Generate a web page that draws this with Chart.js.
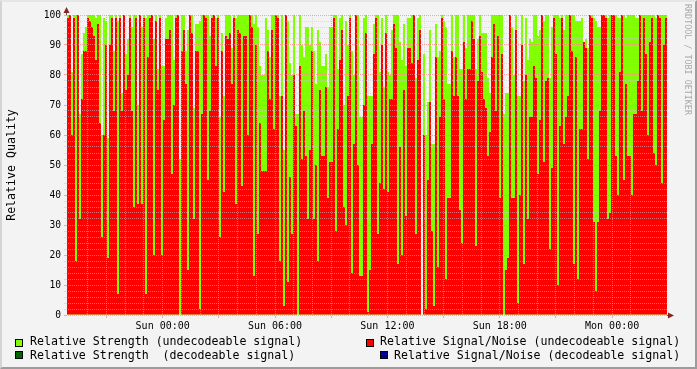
<!DOCTYPE html>
<html>
<head>
<meta charset="utf-8">
<script src="https://cdn.jsdelivr.net/npm/chart.js@4.4.0/dist/chart.umd.min.js"></script>
<style>
    body { margin: 0; background: #f3f3f3; }
    #wrap { position: relative; width: 697px; height: 369px; background: #f3f3f3; overflow: hidden; }
    #chart { position: absolute; left: 0; top: 0; }
    #frame {
        position: absolute; left: 0; top: 0; width: 697px; height: 369px; box-sizing: border-box;
        border-left: 2px solid #d4d4d4; border-top: 2px solid #e6e6e6;
        border-right: 2px solid #9c9c9c; border-bottom: 2px solid #9c9c9c;
        pointer-events: none;
    }
    .leg {
        position: absolute; font-family: 'DejaVu Sans Mono', monospace; font-size: 11.6px;
        line-height: 14px; color: #000; white-space: pre;
    }
    .sw { position: absolute; width: 6px; height: 6px; border: 1px solid #000; }
    #mark {
        position: absolute; left: 683px; top: 4px; writing-mode: vertical-rl;
        font-family: 'DejaVu Sans Mono', monospace; font-size: 8.4px; color: #a8a8a8;
    }
</style>
</head>
<body>
<div id="wrap">
    <canvas id="chart" width="697" height="369"></canvas>
    <div id="frame"></div>

    <div class="sw" style="left:15px;top:339px;background:#80ff00"></div>
    <div class="leg" style="left:30px;top:334px">Relative Strength (undecodeable signal)</div>
    <div class="sw" style="left:366px;top:339px;background:#ff0000"></div>
    <div class="leg" style="left:380px;top:334px">Relative Signal/Noise (undecodeable signal)</div>

    <div class="sw" style="left:15px;top:351px;background:#006600"></div>
    <div class="leg" style="left:30px;top:348px">Relative Strength  (decodeable signal)</div>
    <div class="sw" style="left:380px;top:351px;background:#000099"></div>
    <div class="leg" style="left:394px;top:348px">Relative Signal/Noise (decodeable signal)</div>

    <div id="mark">RRDTOOL / TOBI OETIKER</div>
</div>

<script>
// values per sample column (0..100)
const signalNoise = [
    99, 100, 60, 99, 18, 100, 32, 72, 88, 88,
    99, 98, 96, 93, 85, 97, 64, 26, 60, 90,
    19, 90, 99, 68, 99, 7, 99, 68, 100, 75,
    80, 99, 68, 36, 99, 37, 100, 37, 99, 7,
    86, 99, 100, 20, 98, 75, 99, 20, 65, 92,
    92, 95, 47, 70, 99, 100, 0, 88, 95, 77,
    15, 100, 94, 32, 88, 88, 2, 67, 100, 99,
    45, 68, 99, 100, 83, 99, 26, 88, 41, 93,
    92, 94, 77, 99, 37, 95, 94, 43, 93, 93,
    60, 100, 96, 13, 90, 27, 64, 48, 48, 48,
    88, 72, 95, 62, 100, 99, 18, 73, 3, 100,
    11, 46, 27, 80, 63, 0, 83, 52, 68, 53,
    32, 55, 88, 32, 50, 18, 75, 53, 53, 76,
    39, 51, 51, 99, 28, 62, 85, 95, 36, 30,
    73, 99, 14, 57, 100, 50, 13, 13, 70, 94,
    1, 15, 57, 87, 99, 27, 44, 90, 42, 94,
    41, 72, 72, 97, 89, 17, 56, 20, 75, 33,
    89, 89, 84, 100, 27, 85, 95, 0, 60, 2,
    45, 71, 28, 3, 86, 16, 66, 99, 72, 12,
    39, 39, 88, 73, 86, 73, 35, 24, 91, 72,
    82, 82, 98, 92, 23, 78, 93, 81, 72, 69,
    53, 61, 86, 97, 68, 93, 39, 87, 0, 15,
    19, 100, 39, 39, 95, 4, 40, 90, 17, 80,
    32, 66, 66, 83, 79, 47, 65, 100, 51, 78,
    79, 22, 49, 99, 87, 10, 63, 99, 57, 66,
    73, 100, 88, 17, 86, 12, 62, 62, 91, 89,
    52, 100, 99, 31, 8, 31, 68, 100, 100, 99,
    32, 34, 100, 100, 53, 40, 81, 100, 45, 77,
    53, 53, 40, 67, 67, 78, 100, 68, 99, 87,
    60, 91, 99, 54, 50, 100, 99, 44, 90, 99
];
const strength = [
    100, 100, 81, 100, 100, 100, 67, 87, 94, 96,
    100, 100, 100, 100, 99, 100, 100, 60, 99, 98,
    59, 100, 100, 88, 100, 98, 100, 74, 100, 87,
    92, 100, 96, 100, 100, 70, 100, 96, 100, 99,
    100, 100, 100, 92, 100, 82, 100, 83, 83, 99,
    100, 100, 100, 85, 100, 100, 52, 100, 100, 88,
    95, 100, 100, 69, 97, 97, 98, 100, 100, 100,
    100, 93, 100, 100, 99, 100, 66, 94, 73, 100,
    100, 100, 89, 100, 99, 100, 100, 100, 100, 100,
    100, 100, 100, 97, 100, 96, 83, 80, 80, 99,
    95, 86, 100, 100, 100, 100, 73, 100, 55, 100,
    98, 84, 80, 100, 67, 67, 100, 90, 86, 96,
    96, 90, 96, 88, 77, 95, 91, 83, 83, 87,
    76, 96, 96, 100, 100, 82, 99, 100, 70, 98,
    90, 100, 88, 80, 100, 100, 66, 66, 99, 100,
    73, 73, 73, 97, 100, 100, 81, 99, 76, 100,
    81, 80, 95, 100, 100, 100, 91, 85, 97, 83,
    99, 99, 100, 100, 79, 99, 100, 0, 87, 60,
    71, 95, 57, 57, 97, 86, 88, 100, 98, 96,
    77, 77, 100, 86, 100, 100, 82, 82, 100, 89,
    100, 100, 100, 100, 82, 92, 100, 94, 94, 94,
    79, 74, 100, 100, 100, 100, 100, 100, 67, 74,
    74, 100, 96, 80, 100, 73, 73, 100, 78, 99,
    85, 92, 91, 100, 100, 93, 95, 100, 98, 100,
    100, 79, 96, 100, 100, 100, 99, 100, 95, 100,
    100, 100, 100, 100, 98, 98, 98, 99, 91, 92,
    89, 100, 100, 99, 98, 96, 96, 100, 100, 100,
    99, 100, 100, 100, 100, 99, 99, 100, 100, 99,
    100, 100, 100, 100, 99, 99, 100, 100, 100, 100,
    100, 100, 100, 100, 99, 100, 100, 100, 100, 100
];
// time axis, hours relative to Sun 00:00
const firstHour = -5.11;
const lastHour = 26.93;
const labelHours = [0, 6, 12, 18, 24];
const hourLabels = ['Sun 00:00', 'Sun 06:00', 'Sun 12:00', 'Sun 18:00', 'Mon 00:00'];

const mono = 'DejaVu Sans Mono';
const minorGrid = 'rgba(200, 200, 200, 0.55)';
const majorGrid = 'rgba(255, 128, 128, 0.7)';

// little axis arrows like rrdtool draws
const arrows = {
    id: 'arrows',
    afterDraw(chart) {
        const { ctx, chartArea: a } = chart;
        ctx.save();
        ctx.strokeStyle = '#555';
        ctx.lineWidth = 1;
        ctx.beginPath();
        ctx.moveTo(a.left - 0.5, a.top);
        ctx.lineTo(a.left - 0.5, a.top - 6);
        ctx.moveTo(a.right, a.bottom + 0.5);
        ctx.lineTo(a.right + 5, a.bottom + 0.5);
        ctx.stroke();
        ctx.fillStyle = '#8b2323';
        ctx.beginPath();
        ctx.moveTo(a.left - 0.5, a.top - 8);
        ctx.lineTo(a.left - 3.5, a.top - 2);
        ctx.lineTo(a.left + 2.5, a.top - 2);
        ctx.closePath();
        ctx.fill();
        ctx.beginPath();
        ctx.moveTo(a.right + 7, a.bottom + 0.5);
        ctx.lineTo(a.right + 1, a.bottom - 2.5);
        ctx.lineTo(a.right + 1, a.bottom + 3.5);
        ctx.closePath();
        ctx.fill();
        ctx.restore();
    }
};

new Chart(document.getElementById('chart'), {
    type: 'bar',
    data: {
        labels: signalNoise.map((_, i) => i),
        datasets: [
            {
                label: 'Relative Signal/Noise (undecodeable signal)',
                data: signalNoise,
                backgroundColor: '#ff0000',
                order: 0
            },
            {
                label: 'Relative Strength (undecodeable signal)',
                data: strength,
                backgroundColor: '#80ff00',
                order: 1
            }
        ]
    },
    options: {
        responsive: false,
        animation: false,
        devicePixelRatio: 1,
        layout: { padding: { left: 0, top: 15, right: 30, bottom: 0 } },
        datasets: {
            bar: {
                grouped: false,
                barPercentage: 1,
                categoryPercentage: 1,
                borderWidth: 0,
                inflateAmount: 0
            }
        },
        plugins: {
            legend: { display: false },
            tooltip: { enabled: false }
        },
        scales: {
            x: {
                display: false
            },
            xt: {
                type: 'linear',
                position: 'bottom',
                offset: false,
                min: firstHour,
                max: lastHour,
                afterBuildTicks: (scale) => {
                    scale.ticks = scale.ticks.filter(t => Number.isInteger(t.value));
                },
                afterFit: (scale) => { scale.height = 54; },
                ticks: {
                    stepSize: 1,
                    autoSkip: false,
                    maxRotation: 0,
                    padding: 2,
                    color: '#000',
                    font: { family: mono, size: 10 },
                    callback: (v) => {
                        const k = labelHours.indexOf(v);
                        return k >= 0 ? hourLabels[k] : '';
                    }
                },
                grid: {
                    z: 1,
                    offset: false,
                    tickLength: 3,
                    color: (c) => (c.tick && c.tick.value % 3 === 0) ? majorGrid : minorGrid,
                    tickColor: (c) => (c.tick && c.tick.value % 3 === 0) ? majorGrid : 'rgba(0,0,0,0)',
                    tickBorderDash: []
                },
                border: { display: true, color: '#1e1e5a', dash: [1, 1] }
            },
            y: {
                min: 0,
                max: 100,
                afterFit: (scale) => { scale.width = 67; },
                ticks: {
                    stepSize: 2,
                    autoSkip: false,
                    padding: 3,
                    color: '#000',
                    font: { family: mono, size: 9.6 },
                    callback: (v) => v % 10 === 0 ? String(v) : ''
                },
                grid: {
                    z: 1,
                    tickLength: 3,
                    color: (c) => (c.tick && c.tick.value % 10 === 0) ? majorGrid : minorGrid,
                    tickColor: (c) => (c.tick && c.tick.value % 10 === 0) ? majorGrid : minorGrid,
                    tickBorderDash: []
                },
                border: { display: true, color: '#555', dash: [1, 1] },
                title: {
                    display: true,
                    text: 'Relative Quality',
                    color: '#000',
                    font: { family: mono, size: 11.6 },
                    padding: { top: 5, bottom: 0 }
                }
            }
        }
    },
    plugins: [arrows]
});
</script>
</body>
</html>
